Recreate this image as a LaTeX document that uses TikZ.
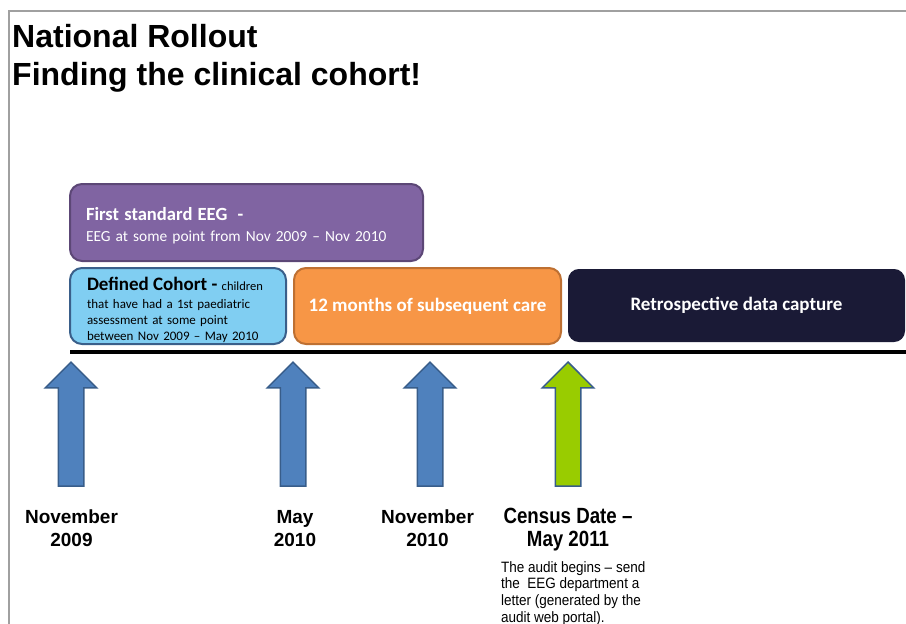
\documentclass[tikz,border=0pt]{standalone}
\usepackage{fontspec}
\setmainfont{Liberation Sans}
\newfontfamily\boxfont{Carlito}
\newfontfamily\narrowfont[FakeStretch=0.85]{Liberation Sans}
\newfontfamily\notefont[FakeStretch=0.9]{Liberation Sans}
\usepackage{tikz}
\usetikzlibrary{shapes.arrows,positioning}
\usepackage{xcolor}
\definecolor{nrframe}{RGB}{160,160,160}
\definecolor{nrpurple}{RGB}{128,100,162}
\definecolor{nrpurpleline}{RGB}{92,71,118}
\definecolor{nrlightblue}{RGB}{128,206,242}
\definecolor{nrlightblueline}{RGB}{58,95,138}
\definecolor{nrorange}{RGB}{247,150,70}
\definecolor{nrorangeline}{RGB}{190,112,50}
\definecolor{nrnavy}{RGB}{26,26,54}
\definecolor{nrarrowblue}{RGB}{79,129,189}
\definecolor{nrarrowline}{RGB}{56,93,138}
\definecolor{nrgreen}{RGB}{153,204,0}
\tikzstyle{periodbox} = [rectangle, rounded corners=12pt, line width=2pt, inner sep=0pt, font=\boxfont]
\tikzstyle{datearrow} = [single arrow, shape border rotate=90, anchor=tip, minimum height=124pt, minimum width=50pt, single arrow head extend=13pt, inner sep=12pt, line width=1.5pt, draw=nrarrowline, fill=nrarrowblue]
\tikzstyle{datelabel} = [anchor=north, align=center, inner sep=0pt, font=\bfseries\fontsize{19}{23}\selectfont]

\begin{document}
\begin{tikzpicture}[x=1pt,y=-1pt]
\useasboundingbox (0,0) rectangle (906,624);
% Frame and title
\draw[nrframe, line width=2pt] (9,624) |- (906,11);
\node[anchor=base west, inner sep=0pt, font=\bfseries\fontsize{32}{38}\selectfont] (title) at (12,47) {National Rollout};
\node[anchor=base west, inner sep=0pt, font=\bfseries\fontsize{32}{38}\selectfont] (subtitle) at (12,85) {Finding the clinical cohort!};

% Periods
\node[periodbox, fill=nrpurple, draw=nrpurpleline, minimum width=353pt, minimum height=77pt, text width=321pt, align=left, text=white, font=\boxfont\fontsize{15.4}{21}\selectfont] (eeg) at (246.5,222.5)
  {\rule{0pt}{19pt}{\bfseries\fontsize{18.6}{21}\selectfont First standard EEG\ \ -}\\
   EEG at some point from Nov 2009 – Nov 2010};
\node[periodbox, fill=nrlightblue, draw=nrlightblueline, minimum width=216pt, minimum height=76pt, text width=182pt, align=left, font=\boxfont\fontsize{13}{16}\selectfont] (cohort) at (178,306)
  {\rule{0pt}{21pt}{\bfseries\fontsize{19}{16}\selectfont Defined Cohort -} {\fontsize{12.5}{16}\selectfont children}\\[2pt]
   that have had a 1st paediatric\\ assessment at some point\\ between Nov 2009 – May 2010};
\node[periodbox, fill=nrorange, draw=nrorangeline, minimum width=267pt, minimum height=76pt, text=white, font=\boxfont\bfseries\fontsize{19}{21}\selectfont] (care) at (427.5,306) {12 months of subsequent care};
\node[periodbox, rounded corners=10pt, fill=nrnavy, draw=nrnavy, minimum width=335pt, minimum height=71pt, text=white, font=\boxfont\bfseries\fontsize{19}{21}\selectfont] (capture) at (736.5,305.5) {Retrospective data capture};

% Timeline
\draw[line width=4pt] (70,352) -- (906,352);

% Dates
\node[datearrow] (nov09) at (71,361) {};
\node[datearrow] (may10) at (293,361) {};
\node[datearrow] (nov10) at (430,361) {};
\node[datearrow, fill=nrgreen] (census) at (568,361) {};

\node[datelabel] (nov09label) at (71.5,510) {November\\2009};
\node[datelabel] (may10label) at (295,510) {May\\2010};
\node[datelabel] (nov10label) at (427.5,510) {November\\2010};
\node[datelabel, font=\narrowfont\bfseries\fontsize{22}{23}\selectfont] (censuslabel) at (568,508) {Census Date –\\May 2011};
\node[anchor=north west, align=left, inner sep=0pt, font=\notefont\fontsize{15}{16.7}\selectfont] (censusnote) at (501,561)
  {The audit begins – send\\the\ \ EEG department a\\letter (generated by the\\audit web portal).};
\end{tikzpicture}
\end{document}
